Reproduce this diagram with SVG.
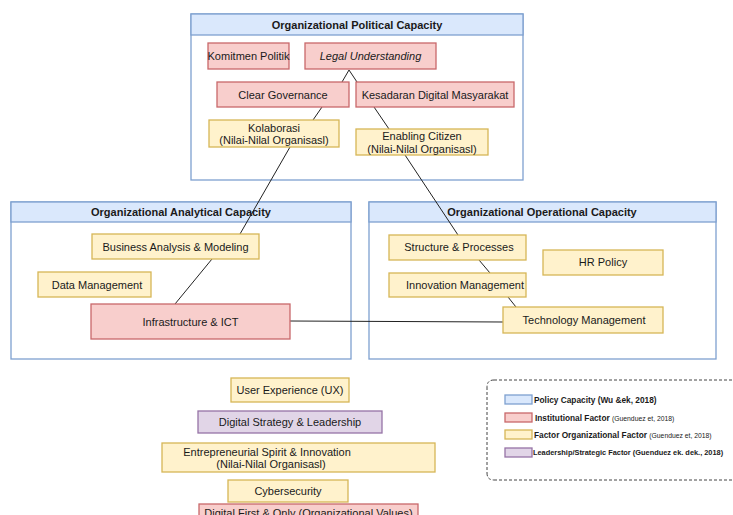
<svg xmlns="http://www.w3.org/2000/svg" width="733" height="515" viewBox="0 0 733 515">
<style>
text{font-family:"Liberation Sans",Arial,sans-serif;font-size:11px;fill:#1a1a1a;text-anchor:middle;dominant-baseline:central}
.hdr{font-weight:bold}
.cont{fill:#ffffff;stroke:#7ea0d0;stroke-width:1.3}
.blue{fill:#dae8fc;stroke:#7ea0d0;stroke-width:1.3}
.red{fill:#f8cecc;stroke:#c8686a;stroke-width:1.3}
.yel{fill:#fff2cc;stroke:#d6b656;stroke-width:1.3}
.pur{fill:#e1d5e7;stroke:#9673a6;stroke-width:1.3}
.edge{stroke:#222;stroke-width:1;fill:none}
.lg{font-size:8.3px;font-weight:bold;text-anchor:start}
.lgs{font-size:6.8px;font-weight:normal}
</style>
<rect width="733" height="515" fill="#ffffff"/>

<g id="political">
<rect class="cont" x="191" y="14" width="332" height="166"/>
<rect class="blue" x="191" y="14" width="332" height="21"/>
<text class="hdr" x="357" y="24.5">Organizational Political Capacity</text>
</g>
<g id="analytical">
<rect class="cont" x="11" y="202" width="340" height="157"/>
<rect class="blue" x="11" y="202" width="340" height="20"/>
<text class="hdr" x="181" y="212">Organizational Analytical Capacity</text>
</g>
<g id="operational">
<rect class="cont" x="369" y="202" width="347" height="157"/>
<rect class="blue" x="369" y="202" width="347" height="20"/>
<text class="hdr" x="542" y="212">Organizational Operational Capacity</text>
</g>

<g id="connectors">
<path class="edge" d="M349 70 L342 82"/>
<path class="edge" d="M349 70 L357 82"/>
<path class="edge" d="M322 107 L313 120"/>
<path class="edge" d="M374 107 L389 129"/>
<path class="edge" d="M290 147 L240 234"/>
<path class="edge" d="M212 259 L175 304"/>
<path class="edge" d="M405 155 L458 235"/>
<path class="edge" d="M479 260 L490 273"/>
<path class="edge" d="M508 297 L516 307"/>
<path class="edge" d="M290 321 L503 322"/>
</g>

<g id="komitmen"><rect class="red" x="208" y="43" width="81" height="26"/><text x="248.5" y="56">Komitmen Politik</text></g>
<g id="legal"><rect class="red" x="305" y="43" width="131" height="26"/><text x="370.5" y="56" font-style="italic">Legal Understanding</text></g>
<g id="clear"><rect class="red" x="217" y="82" width="132" height="25"/><text x="283" y="94.5">Clear Governance</text></g>
<g id="kesadaran"><rect class="red" x="356" y="82" width="158" height="25"/><text x="435" y="94.5">Kesadaran Digital Masyarakat</text></g>
<g id="kolaborasi"><rect class="yel" x="209" y="120" width="130" height="27"/><text x="274" y="127.5">Kolaborasi</text><text x="274" y="140">(Nilai-Nilal Organisasl)</text></g>
<g id="enabling"><rect class="yel" x="356" y="129" width="132" height="26"/><text x="422" y="136">Enabling Citizen</text><text x="422" y="148.5">(Nilai-Nilal Organisasl)</text></g>

<g id="business"><rect class="yel" x="92" y="234" width="167" height="25"/><text x="175.5" y="246.5">Business Analysis &amp; Modeling</text></g>
<g id="datamgmt"><rect class="yel" x="38" y="272" width="113" height="25"/><text x="97" y="284.5">Data Management</text></g>
<g id="infra"><rect class="red" x="91" y="304" width="199" height="35"/><text x="190.5" y="322">Infrastructure &amp; ICT</text></g>

<g id="structure"><rect class="yel" x="389" y="235" width="137" height="25"/><text x="459" y="246.5">Structure &amp; Processes</text></g>
<g id="hrpolicy"><rect class="yel" x="543" y="250" width="120" height="25"/><text x="603" y="262">HR Policy</text></g>
<g id="innovation"><rect class="yel" x="389" y="273" width="137" height="24"/><text x="465" y="284.5">Innovation Management</text></g>
<g id="technology"><rect class="yel" x="503" y="307" width="160" height="26"/><text x="584" y="320">Technology Management</text></g>

<g id="ux"><rect class="yel" x="231" y="378" width="118" height="24"/><text x="290" y="390">User Experience (UX)</text></g>
<g id="strategy"><rect class="pur" x="198" y="411" width="184" height="22"/><text x="290" y="422">Digital Strategy &amp; Leadership</text></g>
<g id="entrepreneurial"><rect class="yel" x="162" y="443" width="273" height="29"/><text x="267" y="451.5">Entrepreneurial Spirit &amp; Innovation</text><text x="271" y="464">(Nilai-Nilal Organisasl)</text></g>
<g id="cyber"><rect class="yel" x="228" y="480" width="120" height="22"/><text x="288" y="491">Cybersecurity</text></g>
<g id="digitalfirst"><rect class="red" x="199" y="504" width="219" height="20"/><text x="308.5" y="512.5">Digital First &amp; Only (Organizational Values)</text></g>

<g id="legend">
<path d="M494 380 H740 M494 480 H740 M487 387 V473" stroke="#444" stroke-width="1" stroke-dasharray="3 2" fill="none"/>
<path d="M494 380 Q487 380 487 387 M487 473 Q487 480 494 480" stroke="#444" stroke-width="1" stroke-dasharray="3 2" fill="none"/>
<rect class="blue" x="505" y="395" width="27" height="9"/>
<text class="lg" x="534" y="399.5">Policy Capacity (Wu &amp;ek, 2018)</text>
<rect class="red" x="505" y="413" width="27" height="9"/>
<text class="lg" x="535" y="417.5">Institutional Factor <tspan class="lgs">(Guenduez et, 2018)</tspan></text>
<rect class="yel" x="505" y="430" width="27" height="9"/>
<text class="lg" x="534" y="434.5">Factor Organizational Factor <tspan class="lgs">(Guenduez et, 2018)</tspan></text>
<rect class="pur" x="505" y="448" width="27" height="9"/>
<text class="lg" x="533" y="452.5" font-size="7.4px" style="font-size:7.4px">Leadership/Strategic Factor (Guenduez ek. dek., 2018)</text>
</g>
</svg>
